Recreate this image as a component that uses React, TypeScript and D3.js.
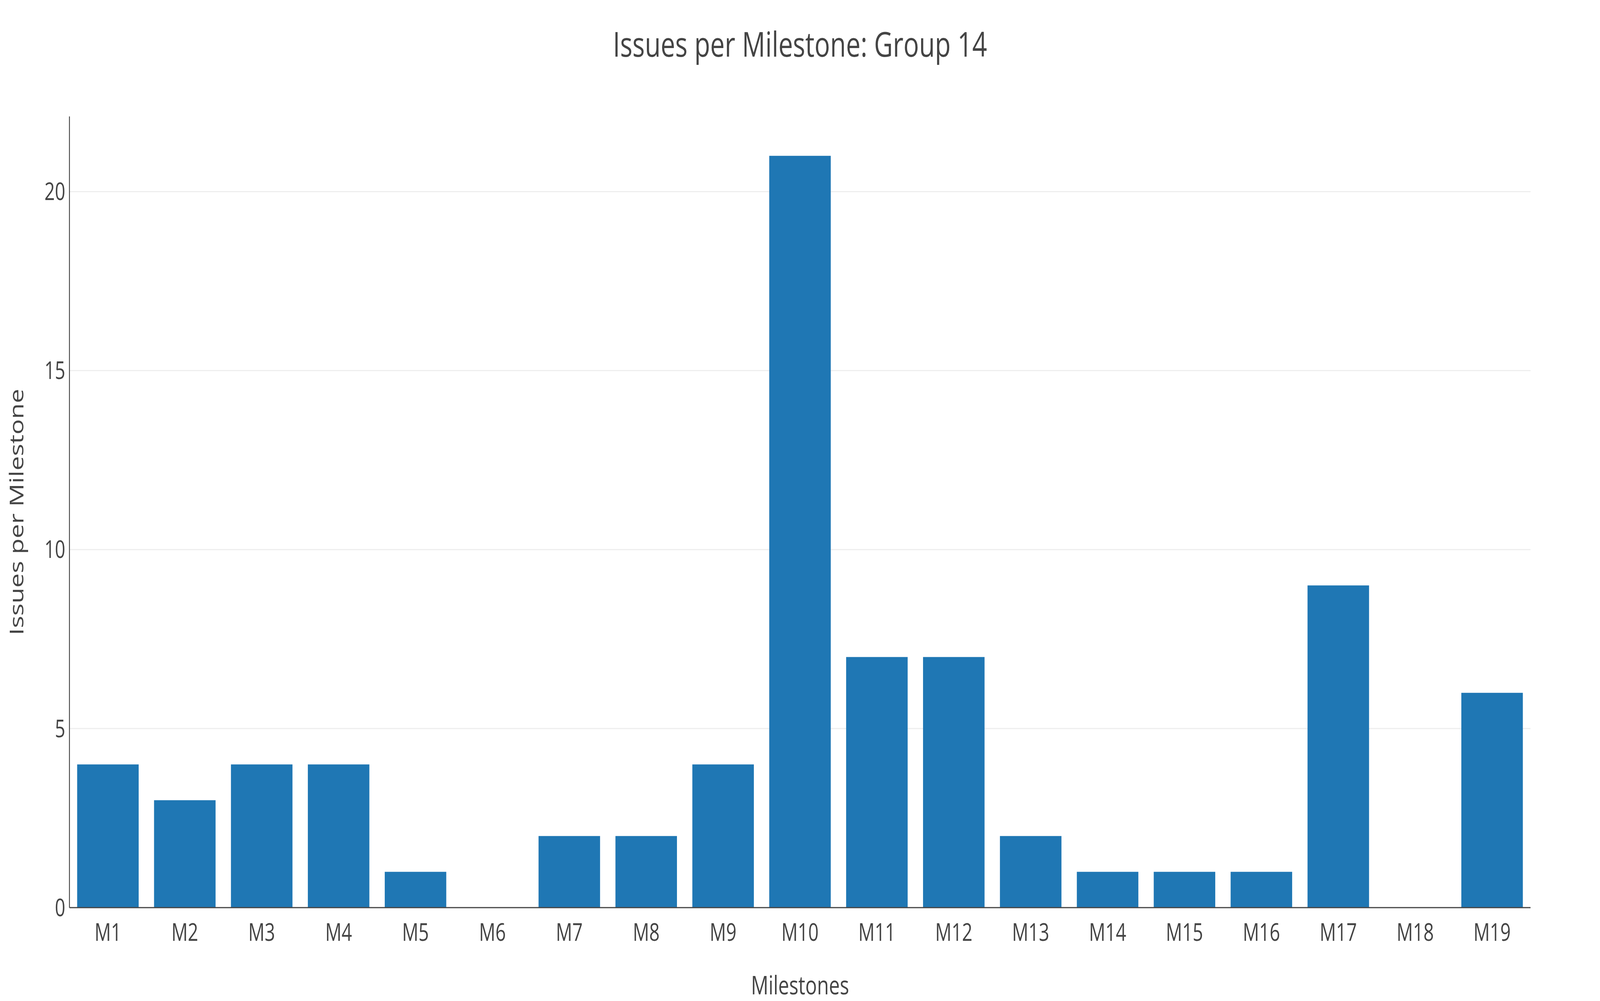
import React from "react";
import * as d3 from "d3";

const categories = ["M1","M2","M3","M4","M5","M6","M7","M8","M9","M10","M11","M12","M13","M14","M15","M16","M17","M18","M19"];
const values = [4,3,4,4,1,0,2,2,4,21,7,7,2,1,1,1,9,0,6];
const yTicks = [0,5,10,15,20];

export default function App() {
  const W = 5436, H = 2562;
  const m = { l: 236, r: 5200, t: 298, b: 2323 };
  const x = d3.scaleBand().domain(categories).range([m.l, m.r]).paddingInner(0.2).paddingOuter(0.1);
  const y = d3.scaleLinear().domain([0, 22.1]).range([m.b, m.t]);
  const font = "'Open Sans', sans-serif";
  return (
    <svg viewBox={`0 0 ${W} ${H}`} preserveAspectRatio="none"
      style={{ display: "block", position: "fixed", left: 0, top: 0, width: "100vw", height: "100vh" }} fontFamily={font}>
      <rect width={W} height={H} fill="#fff" />
      {yTicks.filter(t => t > 0).map(t => (
        <line key={t} x1={m.l} x2={m.r} y1={y(t)} y2={y(t)} stroke="#eee" strokeWidth={3} />
      ))}
      {categories.map((c, i) => (
        <rect key={c} x={x(c)} width={x.bandwidth()} y={y(values[i])} height={y(0) - y(values[i])} fill="#1f77b4" />
      ))}
      <line x1={m.l} x2={m.l} y1={m.t} y2={m.b} stroke="#444" strokeWidth={3} />
      <line x1={m.l} x2={m.r} y1={m.b} y2={m.b} stroke="#444" strokeWidth={3} />
      {yTicks.map(t => (
        <text key={t} x={m.l - 14} y={y(t)} dy="0.35em" textAnchor="end" fontSize={62} fill="#444">{t}</text>
      ))}
      {categories.map(c => (
        <text key={c} x={x(c)! + x.bandwidth() / 2} y={m.b + 85} textAnchor="middle" fontSize={62} fill="#444">{c}</text>
      ))}
      <text x={W / 2} y={145} textAnchor="middle" fontSize={88} fill="#444">Issues per Milestone: Group 14</text>
      <text x={(m.l + m.r) / 2} y={2545} textAnchor="middle" fontSize={66} fill="#444">Milestones</text>
      <text transform={`translate(80,${(m.t + m.b) / 2}) rotate(-90)`} textAnchor="middle" fontSize={66} fill="#444">Issues per Milestone</text>
    </svg>
  );
}
